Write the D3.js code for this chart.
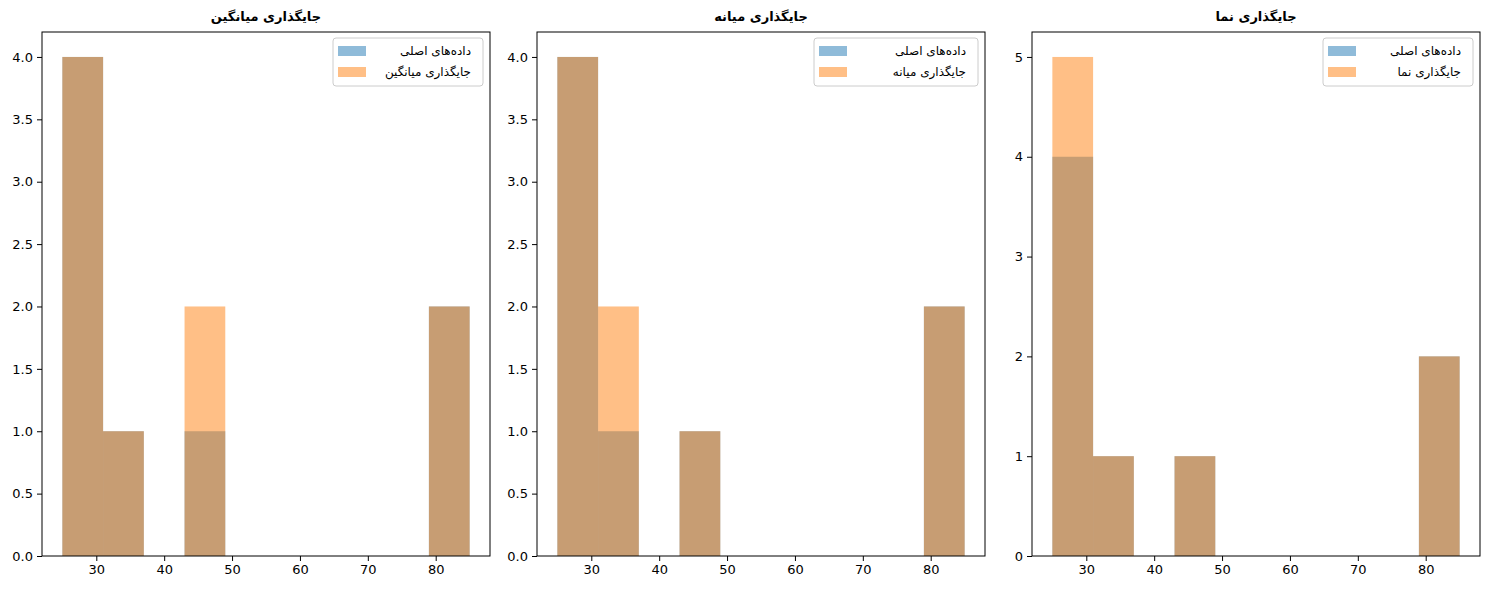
<!DOCTYPE html>
<html>
<head>
<meta charset="utf-8">
<script src="https://cdn.jsdelivr.net/npm/d3@7/dist/d3.min.js"></script>
<style>
  body { margin: 0; background: #fff; }
  text { font-family: "DejaVu Sans", sans-serif; fill: #000; }
</style>
</head>
<body>
<script>
// histogram bins (same edges in every panel)
var binEdges = [25, 31, 37, 43, 49, 55, 61, 67, 73, 79, 85];

// counts per bin
var originalCounts = [4, 1, 0, 1, 0, 0, 0, 0, 0, 2];
var meanCounts     = [4, 1, 0, 2, 0, 0, 0, 0, 0, 2];
var medianCounts   = [4, 2, 0, 1, 0, 0, 0, 0, 0, 2];
var modeCounts     = [5, 1, 0, 1, 0, 0, 0, 0, 0, 2];

var originalLabel = "داده‌های اصلی";
var panelTitles = ["جایگذاری میانگین", "جایگذاری میانه", "جایگذاری نما"];
var xTicks = [30, 40, 50, 60, 70, 80];
var yTicksHalf = [0, 0.5, 1, 1.5, 2, 2.5, 3, 3.5, 4];
var yTicksInt = [0, 1, 2, 3, 4, 5];

var panels = [
  {title: panelTitles[0], imputed: meanCounts, yTicks: yTicksHalf, fmt: ".1f"},
  {title: panelTitles[1], imputed: medianCounts, yTicks: yTicksHalf, fmt: ".1f"},
  {title: panelTitles[2], imputed: modeCounts, yTicks: yTicksInt, fmt: "d"}
];

// layout
var svgWidth = 1489, svgHeight = 590;
var panelLefts = [42, 537, 1032];
var panelWidth = 448, panelTop = 32, panelHeight = 524;
var legendWidths = [150, 164, 150];

var blue = "#1f77b4", orange = "#ff7f0e";

var svg = d3.select("body").append("svg")
  .attr("width", svgWidth)
  .attr("height", svgHeight);

panels.forEach(function(p, i) {
  var g = svg.append("g")
    .attr("transform", "translate(" + panelLefts[i] + "," + panelTop + ")");

  var x = d3.scaleLinear().domain([22, 88]).range([0, panelWidth]);
  var ymax = d3.max(originalCounts.concat(p.imputed)) * 1.05;
  var y = d3.scaleLinear().domain([0, ymax]).range([panelHeight, 0]);

  var bins = function(counts) {
    return counts.map(function(c, k) {
      return {x0: binEdges[k], x1: binEdges[k + 1], n: c};
    }).filter(function(d) { return d.n > 0; });
  };

  // original data then imputed on top, both semi-transparent
  [[originalCounts, blue], [p.imputed, orange]].forEach(function(s) {
    g.append("g").selectAll("rect")
      .data(bins(s[0]))
      .enter().append("rect")
      .attr("x", function(d) { return x(d.x0); })
      .attr("width", function(d) { return x(d.x1) - x(d.x0); })
      .attr("y", function(d) { return y(d.n); })
      .attr("height", function(d) { return y(0) - y(d.n); })
      .attr("fill", s[1])
      .attr("fill-opacity", 0.5);
  });

  // axes
  var xAxis = d3.axisBottom(x).tickValues(xTicks).tickSize(5).tickPadding(4).tickFormat(d3.format("d"));
  var yAxis = d3.axisLeft(y).tickValues(p.yTicks).tickSize(5).tickPadding(4).tickFormat(d3.format(p.fmt));

  g.append("g")
    .attr("transform", "translate(0," + panelHeight + ")")
    .call(xAxis);
  g.append("g").call(yAxis);
  g.selectAll(".domain").remove();
  g.selectAll(".tick text").style("font-size", "13px").attr("fill", "#000");
  g.selectAll(".tick line").attr("stroke", "#000");

  // frame
  g.append("rect")
    .attr("width", panelWidth)
    .attr("height", panelHeight)
    .attr("fill", "none")
    .attr("stroke", "#000")
    .attr("stroke-width", 1);

  // title
  g.append("text")
    .attr("x", panelWidth / 2)
    .attr("y", -11)
    .attr("text-anchor", "middle")
    .style("font-size", "13px")
    .style("font-weight", "bold")
    .text(p.title);

  // legend
  var lw = legendWidths[i];
  var lg = g.append("g")
    .attr("transform", "translate(" + (panelWidth - 7 - lw) + ",6)");
  lg.append("rect")
    .attr("width", lw)
    .attr("height", 48)
    .attr("rx", 3)
    .attr("fill", "#fff")
    .attr("fill-opacity", 0.8)
    .attr("stroke", "#cccccc");
  var items = [[originalLabel, blue], [p.title, orange]];
  items.forEach(function(it, k) {
    lg.append("rect")
      .attr("x", 5)
      .attr("y", 8 + k * 21)
      .attr("width", 28)
      .attr("height", 10)
      .attr("fill", it[1])
      .attr("fill-opacity", 0.5);
    lg.append("text")
      .attr("x", lw - 12)
      .attr("y", 17 + k * 21)
      .attr("text-anchor", "end")
      .style("font-size", "12px")
      .text(it[0]);
  });
});
</script>
</body>
</html>
